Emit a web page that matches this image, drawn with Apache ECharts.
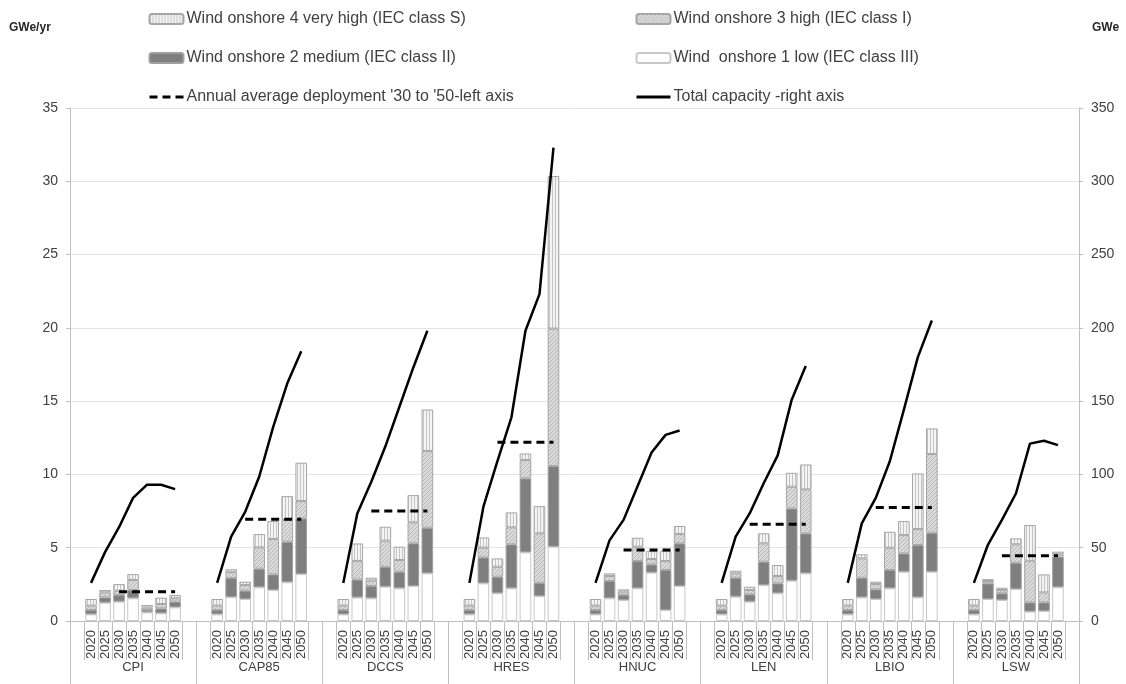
<!DOCTYPE html>
<html><head><meta charset="utf-8">
<script src="https://cdn.jsdelivr.net/npm/echarts@6/dist/echarts.min.js"></script>
<style>html,body{margin:0;padding:0;background:#fff}#c{width:1126px;height:684px}</style>
</head><body><div id="c"></div>
<script>
// ---------- DATA ----------
const scenarios = ['CPI','CAP85','DCCS','HRES','HNUC','LEN','LBIO','LSW'];
const years = ['2020','2025','2030','2035','2040','2045','2050'];
// GWe/yr, per scenario, years 2020..2050
const onshore1Low = [
  [0.45,1.25,1.32,1.55,0.59,0.52,0.93],
  [0.45,1.63,1.50,2.30,2.11,2.64,3.20],
  [0.45,1.60,1.55,2.34,2.23,2.39,3.25],
  [0.45,2.57,1.89,2.23,4.68,1.70,5.07],
  [0.45,1.55,1.43,2.23,3.30,0.75,2.39],
  [0.45,1.66,1.32,2.45,1.89,2.75,3.25],
  [0.45,1.61,1.50,2.23,3.36,1.61,3.36],
  [0.45,1.50,1.43,2.18,0.64,0.68,2.30]
];
const onshore2Medium = [
  [0.30,0.36,0.45,0.56,0.16,0.34,0.39],
  [0.30,1.30,0.57,1.27,1.07,2.77,3.80],
  [0.30,1.23,0.84,1.36,1.13,2.91,3.11],
  [0.30,1.77,1.13,3.00,5.05,0.91,5.50],
  [0.30,1.18,0.34,1.86,0.56,2.73,2.91],
  [0.30,1.29,0.50,1.60,0.68,4.93,2.73],
  [0.30,1.34,0.66,1.25,1.25,3.57,2.66],
  [0.30,1.07,0.46,1.80,0.63,0.59,2.09]
];
const onshore3High = [
  [0.30,0.34,0.30,0.69,0.16,0.30,0.23],
  [0.30,0.40,0.38,1.45,2.41,1.48,1.18],
  [0.30,1.27,0.36,1.78,0.80,1.43,5.23],
  [0.30,0.66,0.68,1.16,1.25,3.37,9.38],
  [0.30,0.34,0.23,0.98,0.37,0.61,0.63],
  [0.30,0.30,0.29,1.25,0.50,1.48,3.00],
  [0.30,1.32,0.36,1.52,1.25,1.09,5.37],
  [0.30,0.16,0.22,1.25,2.84,0.68,0.16]
];
const onshore4VeryHigh = [
  [0.45,0.16,0.45,0.40,0.18,0.43,0.22],
  [0.45,0.20,0.23,0.91,1.23,1.63,2.62],
  [0.45,1.19,0.20,0.95,0.91,1.86,2.84],
  [0.45,0.70,0.57,1.02,0.45,1.86,10.41],
  [0.45,0.18,0.16,0.61,0.54,0.68,0.55],
  [0.45,0.18,0.23,0.68,0.75,0.95,1.70],
  [0.45,0.28,0.16,1.09,0.96,3.80,1.75],
  [0.45,0.13,0.16,0.41,2.44,1.23,0.18]
];
// GWe/yr, average 2030-2050 (left axis)
const annualAverage = [2.0, 6.95, 7.5, 12.2, 4.85, 6.6, 7.75, 4.45];
// GWe, total capacity (right axis)
const totalCapacity = [
  [26,47,64,84,93,93,90],
  [26,57.5,74.5,98.4,132.5,162,184],
  [26,73.4,95,119,146,173,198],
  [26,78,109,139,198,223,323],
  [26,55,69,92,115,127,130],
  [26,57.5,73.4,94,113,151,174],
  [26,66.6,84,109,144,180,205],
  [26,52,69,87,121,123,120]
];
const leftTicks = {min:0, max:35, interval:5};
const rightTicks = {min:0, max:350, interval:50};
const seriesNames = [
  'Wind onshore 4 very high (IEC class S)',
  'Wind onshore 3 high (IEC class I)',
  'Wind onshore 2 medium (IEC class II)',
  'Wind  onshore 1 low (IEC class III)',
  "Annual average deployment '30 to '50-left axis",
  'Total capacity -right axis'
];

// ---------- BUILD ----------
const slotsPerGroup = years.length + 2;
const cats = [];
scenarios.forEach(() => { cats.push(''); years.forEach(y => cats.push(y)); cats.push(''); });
function spread(arr2d) {
  const out = [];
  arr2d.forEach(row => { out.push(null); row.forEach(v => out.push(v)); out.push(null); });
  return out;
}
function avgLine() {
  const out = [];
  annualAverage.forEach(v => {
    out.push(null);
    years.forEach((y, i) => out.push(i >= 2 ? v : null));
    out.push(null);
  });
  return out;
}
function pattern(bg, fg, kind) {
  const c = document.createElement('canvas');
  const ctx = c.getContext('2d');
  if (kind === 'v') {
    c.width = 3; c.height = 3;
    ctx.fillStyle = bg; ctx.fillRect(0, 0, 3, 3);
    ctx.fillStyle = fg; ctx.fillRect(0, 0, 1, 3);
  } else {
    c.width = 4; c.height = 4;
    ctx.fillStyle = bg; ctx.fillRect(0, 0, 4, 4);
    ctx.fillStyle = fg;
    for (let i = 0; i < 4; i++) ctx.fillRect(i, 3 - i, 1, 1);
  }
  return { image: c, repeat: 'repeat' };
}
const FONT = "'Liberation Sans', sans-serif";
const AX = '#bfbfbf';
const hideSym = { opacity: 0 };

const chart = echarts.init(document.getElementById('c'), null, {renderer: 'canvas'});
const barBase = { type: 'bar', stack: 'w', xAxisIndex: 0, yAxisIndex: 0, barCategoryGap: '17%' };
const legendCommon = { orient: 'vertical', top: 6, itemWidth: 34, itemHeight: 10, itemGap: 23,
  textStyle: { fontSize: 16, color: '#404040', fontFamily: FONT, padding: [0, 0, 0, -2] },
  lineStyle: { width: 3 } };
chart.setOption({
  animation: false,
  backgroundColor: '#fff',
  textStyle: { fontFamily: FONT },
  grid: { left: 70, right: 47, top: 108, bottom: 63, containLabel: false },
  legend: [
    Object.assign({}, legendCommon, { left: 143,
      data: [seriesNames[0], seriesNames[2], { name: seriesNames[4], itemStyle: hideSym }] }),
    Object.assign({}, legendCommon, { left: 630,
      data: [seriesNames[1], seriesNames[3], { name: seriesNames[5], itemStyle: hideSym }] })
  ],
  graphic: [
    { type: 'text', left: 9, top: 22, style: { text: 'GWe/yr', font: "bold 12px 'Liberation Sans', sans-serif", fill: '#262626' } },
    { type: 'text', left: 1092, top: 22, style: { text: 'GWe', font: "bold 12px 'Liberation Sans', sans-serif", fill: '#262626' } }
  ],
  xAxis: [
    { type: 'category', data: cats, position: 'bottom',
      axisLine: { lineStyle: { color: AX } },
      axisTick: { show: true, length: 39, lineStyle: { color: AX },
        interval: function (i) { return i % slotsPerGroup !== 0; } },
      axisLabel: { interval: 0, rotate: 90, fontSize: 13, color: '#404040', margin: 9 },
      splitLine: { show: false } },
    { type: 'category', data: scenarios, position: 'bottom',
      axisLine: { show: false },
      axisTick: { show: true, length: 63, lineStyle: { color: AX } },
      axisLabel: { fontSize: 13, color: '#404040', margin: 40 },
      splitLine: { show: false } }
  ],
  yAxis: [
    { type: 'value', position: 'left', min: leftTicks.min, max: leftTicks.max, interval: leftTicks.interval,
      axisLine: { show: true, lineStyle: { color: AX } },
      axisTick: { show: true, length: 4, lineStyle: { color: AX } },
      axisLabel: { fontSize: 14, color: '#404040', margin: 12 },
      splitLine: { show: true, lineStyle: { color: '#e4e4e4' } } },
    { type: 'value', position: 'right', min: rightTicks.min, max: rightTicks.max, interval: rightTicks.interval,
      axisLine: { show: true, lineStyle: { color: AX } },
      axisTick: { show: true, length: 4, lineStyle: { color: AX } },
      axisLabel: { fontSize: 14, color: '#404040', margin: 12 },
      splitLine: { show: false } }
  ],
  series: [
    Object.assign({}, barBase, { name: seriesNames[3], data: spread(onshore1Low),
      itemStyle: { color: '#ffffff', borderColor: '#c8c8c8', borderWidth: 1 } }),
    Object.assign({}, barBase, { name: seriesNames[2], data: spread(onshore2Medium),
      itemStyle: { color: '#7f7f7f', borderColor: '#a0a0a0', borderWidth: 1 } }),
    Object.assign({}, barBase, { name: seriesNames[1], data: spread(onshore3High),
      itemStyle: { color: pattern('#dadada', '#b8b8b8', 'd'), borderColor: '#a6a6a6', borderWidth: 1 } }),
    Object.assign({}, barBase, { name: seriesNames[0], data: spread(onshore4VeryHigh),
      itemStyle: { color: pattern('#f4f4f4', '#c4c4c4', 'v'), borderColor: '#a6a6a6', borderWidth: 1 } }),
    { type: 'line', name: seriesNames[4], xAxisIndex: 0, yAxisIndex: 0, data: avgLine(),
      symbol: 'none', connectNulls: false, z: 5,
      lineStyle: { color: '#000', width: 3, type: [8, 5] } },
    { type: 'line', name: seriesNames[5], xAxisIndex: 0, yAxisIndex: 1, data: spread(totalCapacity),
      symbol: 'none', connectNulls: false, z: 6,
      lineStyle: { color: '#000', width: 2.5 } }
  ]
});
</script>
</body></html>
